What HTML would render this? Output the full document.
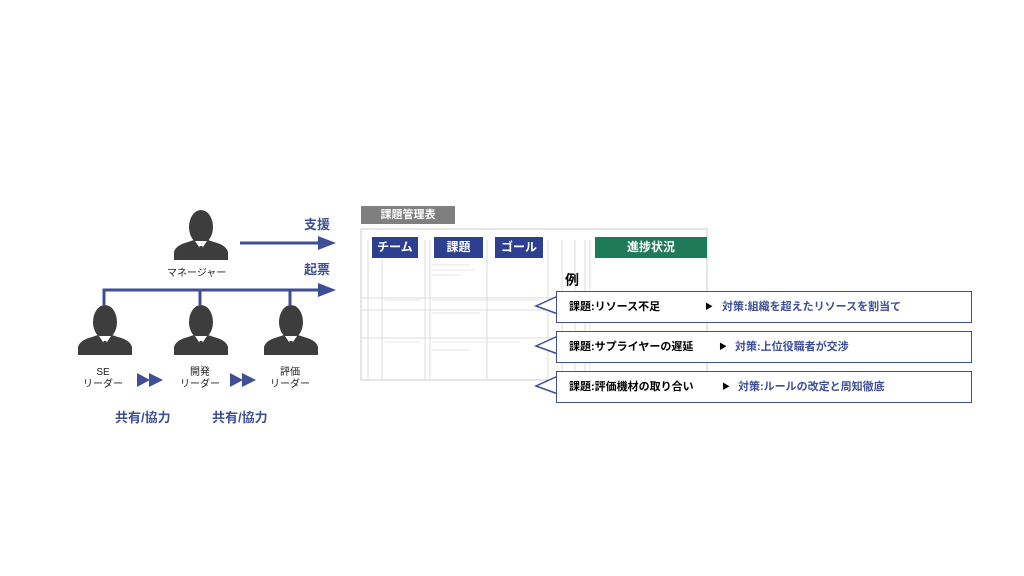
<!DOCTYPE html>
<html><head><meta charset="utf-8"><style>
body{margin:0;width:1024px;height:576px;background:#fff;position:relative;overflow:hidden;font-family:"Liberation Sans","Noto Sans CJK JP",sans-serif}
.a{position:absolute;white-space:nowrap}
.b{font-weight:bold;color:#3f4f95}
.hd{position:absolute;background:#2f3f8f;color:#fff;font-weight:bold;font-size:12px;text-align:center;line-height:21px}
.co{position:absolute;left:556px;width:414px;height:30px;border:1.5px solid #3f4f95;background:#fff;font-size:11px;font-weight:bold;line-height:30px}
.co span{position:absolute}
</style></head><body>
<svg class="a" style="left:0;top:0" width="1024" height="576">
<defs>
<g id="p"><ellipse cx="27" cy="17" rx="12" ry="17" fill="#3d3d3d"/><path d="M0 50 L0 42 Q2 35 14 32 L20 30 L34 30 L40 32 Q52 35 54 42 L54 50 Z" fill="#3d3d3d"/><path d="M21 31 L27 40 L33 31 Z" fill="#fff"/><path d="M25.5 36 L28.5 36 L29 48 L25 48Z" fill="#3d3d3d"/></g>
<marker id="ah" markerWidth="8" markerHeight="8" refX="7" refY="4" orient="auto" markerUnits="userSpaceOnUse"><path d="M0 0 L0 0"/></marker>
</defs>
<use href="#p" x="174" y="210"/>
<use href="#p" x="78" y="305"/>
<use href="#p" x="174" y="305"/>
<use href="#p" x="264" y="305"/>
<g fill="#3f4f95" stroke="#3f4f95">
<line x1="240" y1="243" x2="322" y2="243" stroke-width="3"/><path d="M318 236 L336 243 L318 250Z" stroke="none"/>
<path d="M104 306 L104 290 L322 290 M200 290 L200 306 M290 290 L290 306" fill="none" stroke-width="3"/><path d="M318 283 L336 290 L318 297Z" stroke="none"/>
<path d="M137 373 L150 380 L137 387Z M149 373 L163 380 L149 387Z M230 373 L243 380 L230 387Z M242 373 L256 380 L242 387Z" stroke="none"/>
</g>
<!-- table -->
<rect x="361" y="206" width="94" height="18" fill="#7f7f7f"/>
<rect x="361" y="229" width="346" height="151" fill="#fff" stroke="#ccc"/>
<g stroke="#ddd" stroke-width="1">
<line x1="368" y1="240" x2="368" y2="380"/><line x1="382" y1="240" x2="382" y2="380"/><line x1="425" y1="240" x2="425" y2="380"/><line x1="430" y1="240" x2="430" y2="380"/><line x1="487" y1="240" x2="487" y2="380"/><line x1="548" y1="240" x2="548" y2="380"/><line x1="562" y1="240" x2="562" y2="380"/><line x1="575" y1="240" x2="575" y2="380"/><line x1="585" y1="240" x2="585" y2="380"/><line x1="590" y1="240" x2="590" y2="380"/>
<line x1="361" y1="298" x2="707" y2="298"/><line x1="361" y1="310" x2="707" y2="310"/><line x1="361" y1="338" x2="707" y2="338"/>
</g>
<g stroke="#e4e4e4"><line x1="432" y1="265" x2="470" y2="265"/><line x1="432" y1="270" x2="475" y2="270"/><line x1="432" y1="275" x2="460" y2="275"/><line x1="432" y1="300" x2="540" y2="300"/><line x1="432" y1="313" x2="480" y2="313"/><line x1="432" y1="342" x2="520" y2="342"/><line x1="432" y1="350" x2="470" y2="350"/><line x1="385" y1="300" x2="420" y2="300"/><line x1="385" y1="342" x2="420" y2="342"/></g>
<!-- callout tails -->
<g fill="#fff" stroke="#3f4f95" stroke-width="1.5">
<path d="M558 296 L536 306 L558 314"/><path d="M558 336 L536 346 L558 354"/><path d="M558 376 L536 386 L558 394"/>
</g>
</svg>
<div class="a" style="left:167px;top:264px;font-size:10px;color:#222">マネージャー</div>
<div class="a b" style="left:304px;top:214px;font-size:13px">支援</div>
<div class="a b" style="left:304px;top:259px;font-size:13px">起票</div>
<div class="a" style="left:80px;top:367px;width:46px;text-align:center;font-size:10px;line-height:12px;color:#222">SE<br>リーダー</div>
<div class="a" style="left:177px;top:367px;width:46px;text-align:center;font-size:10px;line-height:12px;color:#222">開発<br>リーダー</div>
<div class="a" style="left:267px;top:367px;width:46px;text-align:center;font-size:10px;line-height:12px;color:#222">評価<br>リーダー</div>
<div class="a b" style="left:115px;top:407px;font-size:13px">共有/協力</div>
<div class="a b" style="left:212px;top:407px;font-size:13px">共有/協力</div>
<div class="a" style="left:361px;top:206px;width:94px;text-align:center;color:#fff;font-weight:bold;font-size:11px;line-height:18px">課題管理表</div>
<div class="hd" style="left:372px;top:237px;width:46px">チーム</div>
<div class="hd" style="left:434px;top:237px;width:49px">課題</div>
<div class="hd" style="left:495px;top:237px;width:48px">ゴール</div>
<div class="hd" style="left:595px;top:237px;width:112px;background:#1f7a5a">進捗状況</div>
<div class="a" style="left:565px;top:270px;font-size:14px;font-weight:bold">例</div>
<div class="co" style="top:291px"><span style="left:12px">課題:リソース不足</span><span style="left:148px;font-size:8px">▶</span><span style="left:165px;color:#3f4f95">対策:組織を超えたリソースを割当て</span></div>
<div class="co" style="top:331px"><span style="left:12px">課題:サプライヤーの遅延</span><span style="left:162px;font-size:8px">▶</span><span style="left:178px;color:#3f4f95">対策:上位役職者が交渉</span></div>
<div class="co" style="top:371px"><span style="left:12px">課題:評価機材の取り合い</span><span style="left:165px;font-size:8px">▶</span><span style="left:181px;color:#3f4f95">対策:ルールの改定と周知徹底</span></div>
</body></html>
